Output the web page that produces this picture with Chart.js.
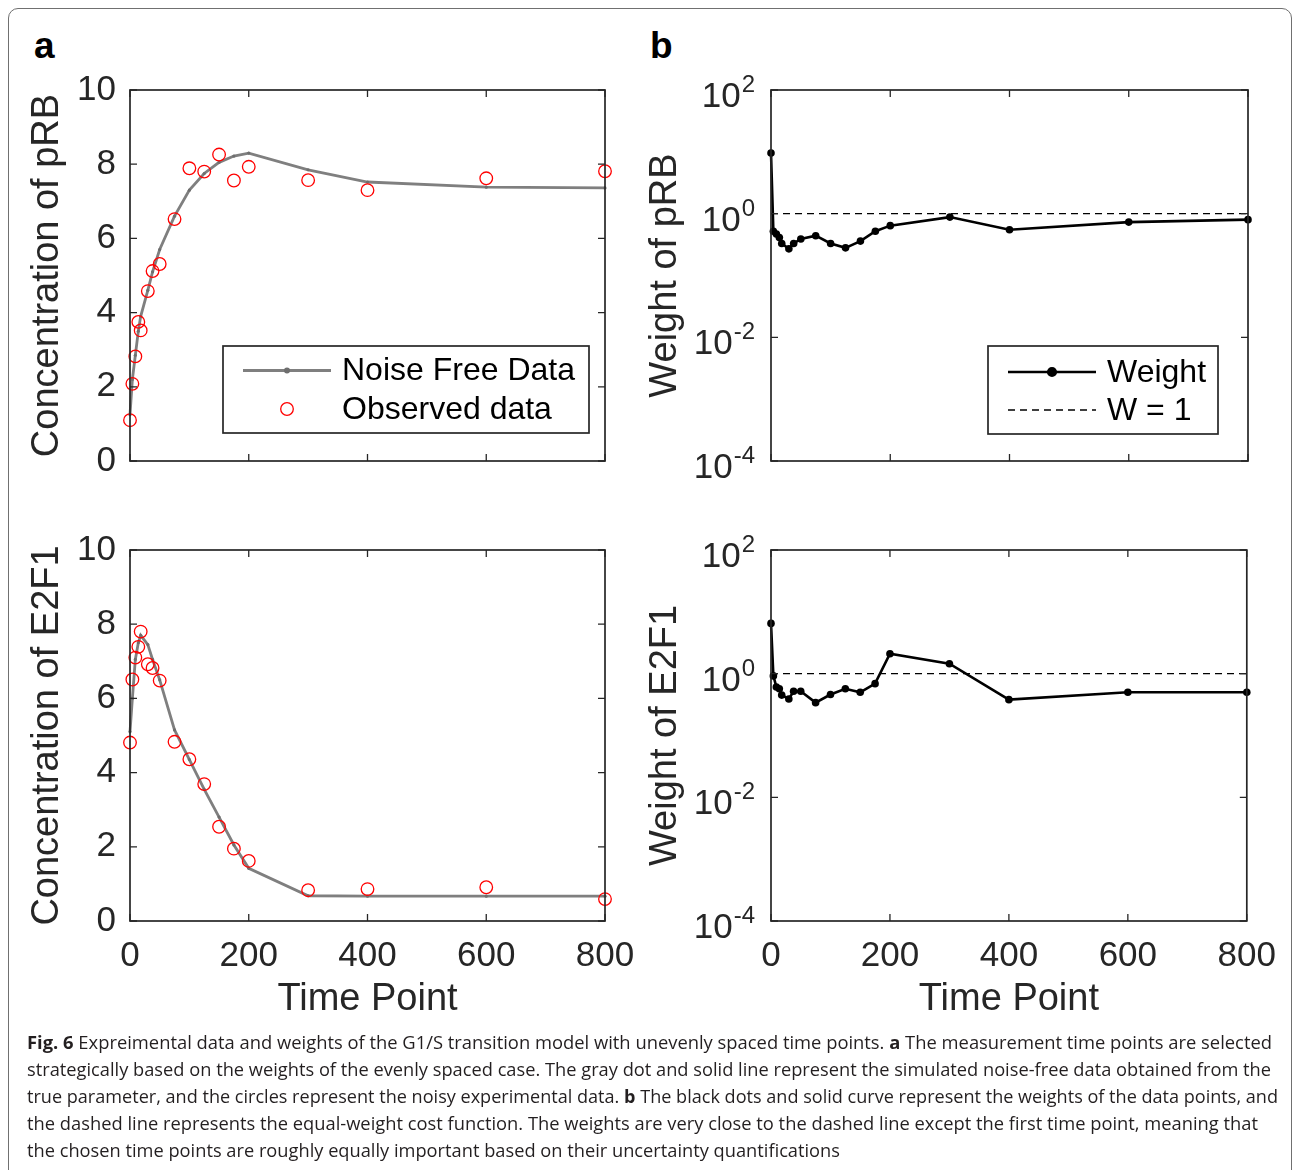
<!DOCTYPE html>
<html>
<head>
<meta charset="utf-8">
<title>Fig. 6</title>
<script src="https://cdn.jsdelivr.net/npm/chart.js@4.4.1/dist/chart.umd.min.js"></script>
<style>
  html, body { margin: 0; padding: 0; background: #fff; }
  body { position: relative; width: 1293px; height: 1170px; overflow: hidden; }
  .frame { position: absolute; left: 8px; top: 8px; width: 1284px; height: 1200px; border: 1.5px solid #707070; border-radius: 10px 10px 0 0; box-sizing: border-box; }
  canvas { position: absolute; }
  .tag { position: absolute; font: bold 37px 'Liberation Sans', Arial, sans-serif; line-height: 37px; color: #000; }
  .caption { position: absolute; left: 27px; top: 1029px; font-family: 'Open Sans', 'Noto Sans', sans-serif; font-size: 17.5px; line-height: 27px; color: #231f20; }
  .caption div { white-space: nowrap; transform-origin: 0 50%; width: max-content; }
</style>
</head>
<body>
<div class="frame"></div>
<div class="tag" style="left:34px;top:27px">a</div>
<div class="tag" style="left:650px;top:27px">b</div>

<canvas id="prbConc" width="650" height="470" style="left:0;top:40px"></canvas>
<canvas id="prbWeight" width="650" height="470" style="left:640px;top:40px"></canvas>
<canvas id="e2f1Conc" width="650" height="540" style="left:0;top:500px"></canvas>
<canvas id="e2f1Weight" width="650" height="540" style="left:640px;top:500px"></canvas>

<div class="caption" id="caption">
  <div><b>Fig. 6</b> Expreimental data and weights of the G1/S transition model with unevenly spaced time points. <b>a</b> The measurement time points are selected</div>
  <div>strategically based on the weights of the evenly spaced case. The gray dot and solid line represent the simulated noise-free data obtained from the</div>
  <div>true parameter, and the circles represent the noisy experimental data. <b>b</b> The black dots and solid curve represent the weights of the data points, and</div>
  <div>the dashed line represents the equal-weight cost function. The weights are very close to the dashed line except the first time point, meaning that</div>
  <div>the chosen time points are roughly equally important based on their uncertainty quantifications</div>
</div>

<script>
// measurement times (shared by all four panels)
const timePoints = [0, 4, 9, 14, 18, 30, 38, 50, 75, 100, 125, 150, 175, 200, 300, 400, 600, 800];

// panel a
const prbNoiseFree = [1.25, 2.2, 2.85, 3.5, 3.9, 4.6, 5.1, 5.7, 6.6, 7.3, 7.75, 8.05, 8.22, 8.3, 7.85, 7.52, 7.38, 7.36];
const prbObserved = [1.10, 2.08, 2.82, 3.75, 3.52, 4.58, 5.12, 5.31, 6.52, 7.89, 7.80, 8.26, 7.56, 7.93, 7.57, 7.30, 7.62, 7.81];
const e2f1NoiseFree = [5.1, 6.0, 7.05, 7.5, 7.7, 7.45, 7.05, 6.5, 5.15, 4.35, 3.55, 2.8, 2.05, 1.42, 0.68, 0.67, 0.67, 0.67];
const e2f1Observed = [4.81, 6.51, 7.10, 7.39, 7.80, 6.92, 6.82, 6.48, 4.83, 4.36, 3.69, 2.54, 1.95, 1.62, 0.83, 0.86, 0.91, 0.59];

// panel b
const prbWeight = [9.6, 0.52, 0.47, 0.41, 0.33, 0.27, 0.33, 0.39, 0.44, 0.33, 0.28, 0.36, 0.52, 0.64, 0.88, 0.55, 0.73, 0.80];
const e2f1Weight = [6.5, 0.92, 0.61, 0.57, 0.45, 0.39, 0.52, 0.52, 0.34, 0.46, 0.57, 0.50, 0.69, 2.1, 1.45, 0.38, 0.50, 0.50];
const refTime = [0, 800];
const refWeight = [1, 1];

// tick labels
const timeTicks = [0, 200, 400, 600, 800];
const concTicks = [0, 2, 4, 6, 8, 10];
const weightTicks = [1e-4, 1e-2, 1, 1e2];

const AXIS = '#262626';
const FONT = "'Liberation Sans', Arial, Helvetica, sans-serif";

const pts = (xs, ys) => xs.map((x, i) => ({ x: x, y: ys[i] }));

// MATLAB style box with inward ticks on all four sides
const matlabBox = {
  id: 'matlabBox',
  afterDatasetsDraw(chart) {
    const { ctx, chartArea: a, scales: { x, y } } = chart;
    ctx.save();
    ctx.strokeStyle = AXIS;
    ctx.lineWidth = 1.3;
    ctx.beginPath();
    x.ticks.forEach(t => {
      const px = x.getPixelForValue(t.value);
      ctx.moveTo(px, a.bottom); ctx.lineTo(px, a.bottom - 7);
      ctx.moveTo(px, a.top); ctx.lineTo(px, a.top + 7);
    });
    y.ticks.forEach(t => {
      const py = y.getPixelForValue(t.value);
      ctx.moveTo(a.left, py); ctx.lineTo(a.left + 7, py);
      ctx.moveTo(a.right, py); ctx.lineTo(a.right - 7, py);
    });
    ctx.stroke();
    ctx.lineWidth = 1.7;
    ctx.strokeRect(a.left, a.top, a.right - a.left, a.bottom - a.top);
    ctx.restore();
  }
};

// 10^n labels for the log axes
const expTicks = {
  id: 'expTicks',
  afterDraw(chart) {
    const { ctx, chartArea: a, scales: { y } } = chart;
    ctx.save();
    ctx.fillStyle = AXIS;
    ctx.textAlign = 'right';
    ctx.textBaseline = 'alphabetic';
    y.ticks.forEach(t => {
      const py = y.getPixelForValue(t.value);
      const exp = String(Math.round(Math.log10(t.value)));
      const right = a.left - 16;
      ctx.font = '24px ' + FONT;
      const ew = ctx.measureText(exp).width;
      ctx.fillText(exp, right, py + 2);
      ctx.font = '35px ' + FONT;
      ctx.fillText('10', right - ew - 1, py + 17);
    });
    ctx.restore();
  }
};

// legend box inside the axes
const boxLegend = {
  id: 'boxLegend',
  afterDraw(chart, args, o) {
    const { ctx, chartArea: a } = chart;
    const L = a.left + o.left, R = a.right - o.right, T = a.top + o.top, B = a.bottom - o.bottom;
    ctx.save();
    ctx.fillStyle = '#fff';
    ctx.fillRect(L, T, R - L, B - T);
    ctx.strokeStyle = AXIS;
    ctx.lineWidth = 1.7;
    ctx.strokeRect(L, T, R - L, B - T);
    o.rows.forEach((dy, i) => {
      const ds = chart.data.datasets[o.order[i]];
      const y = T + dy, x0 = L + 20, x1 = L + 108, xm = (x0 + x1) / 2;
      if (ds.showLine !== false) {
        ctx.strokeStyle = ds.borderColor;
        ctx.lineWidth = ds.borderWidth;
        ctx.setLineDash(ds.borderDash || []);
        ctx.beginPath(); ctx.moveTo(x0, y); ctx.lineTo(x1, y); ctx.stroke();
        ctx.setLineDash([]);
      }
      if (ds.pointRadius > 0) {
        ctx.beginPath();
        ctx.arc(xm, y, ds.pointRadius, 0, Math.PI * 2);
        ctx.fillStyle = ds.pointBackgroundColor;
        ctx.fill();
        ctx.strokeStyle = ds.pointBorderColor;
        ctx.lineWidth = ds.pointBorderWidth;
        ctx.stroke();
      }
      ctx.fillStyle = '#000';
      ctx.font = '32px ' + FONT;
      ctx.textAlign = 'left';
      ctx.textBaseline = 'middle';
      ctx.fillText(ds.label, L + 119, y + 1);
    });
    ctx.restore();
  }
};

function xAxis(showX) {
  return {
    type: 'linear', min: 0, max: 800,
    afterBuildTicks: s => { s.ticks = timeTicks.map(v => ({ value: v })); },
    ticks: { display: showX, font: { family: FONT, size: 35 }, color: AXIS, padding: 14, maxRotation: 0, autoSkip: false },
    grid: { display: false, drawTicks: false },
    border: { display: false },
    title: { display: showX, text: 'Time Point', color: AXIS, font: { family: FONT, size: 38, lineHeight: 1 }, padding: { top: 0, bottom: 21 } },
    afterFit: s => { s.height = showX ? 119 : 49; }
  };
}

function baseOptions(showX, yScale, legendOpts) {
  return {
    responsive: false,
    animation: false,
    devicePixelRatio: 1,
    layout: { padding: { top: 50, right: 45, left: 0, bottom: 0 } },
    scales: { x: xAxis(showX), y: yScale },
    plugins: { legend: { display: false }, tooltip: { enabled: false }, boxLegend: legendOpts || {} }
  };
}

function concChart(id, title, noiseFree, observed, withLegend) {
  const yScale = {
    type: 'linear', min: 0, max: 10,
    afterBuildTicks: s => { s.ticks = concTicks.map(v => ({ value: v })); },
    ticks: { font: { family: FONT, size: 35 }, color: AXIS, padding: 14 },
    grid: { display: false, drawTicks: false },
    border: { display: false },
    title: { display: true, text: title, color: AXIS, font: { family: FONT, size: 38, lineHeight: 1 }, padding: { top: 29, bottom: 0 } },
    afterFit: s => { s.width = 130; }
  };
  const plugins = [matlabBox];
  if (withLegend) plugins.push(boxLegend);
  new Chart(document.getElementById(id), {
    type: 'line',
    data: {
      datasets: [
        {
          label: 'Observed data',
          data: pts(timePoints, observed),
          showLine: false,
          pointRadius: 6.3,
          pointBorderWidth: 1.3,
          pointBorderColor: '#ff0000',
          pointBackgroundColor: 'rgba(0,0,0,0)',
          borderColor: '#ff0000',
          clip: false
        },
        {
          label: 'Noise Free Data',
          data: pts(timePoints, noiseFree),
          borderColor: '#7f7f7f',
          borderWidth: 2.8,
          pointRadius: 1.6,
          pointBorderWidth: 0,
          pointBorderColor: '#6e6e6e',
          pointBackgroundColor: '#6e6e6e',
          tension: 0,
          clip: false
        }
      ]
    },
    options: baseOptions(!withLegend, yScale, { left: 93, right: 16, top: 256, bottom: 28, rows: [24.5, 63], order: [1, 0] }),
    plugins: plugins
  });
}

function weightChart(id, title, weights, withLegend) {
  const yScale = {
    type: 'logarithmic', min: 1e-4, max: 1e2,
    afterBuildTicks: s => { s.ticks = weightTicks.map(v => ({ value: v })); },
    ticks: { display: false },
    grid: { display: false, drawTicks: false },
    border: { display: false },
    title: { display: true, text: title, color: AXIS, font: { family: FONT, size: 38, lineHeight: 1 }, padding: { top: 7, bottom: 0 } },
    afterFit: s => { s.width = 131; }
  };
  const plugins = [matlabBox, expTicks];
  if (withLegend) plugins.push(boxLegend);
  const opts = baseOptions(!withLegend, yScale, { left: 217, right: 30, top: 256, bottom: 27, rows: [26, 64], order: [0, 1] });
  opts.layout.padding.right = 42;
  new Chart(document.getElementById(id), {
    type: 'line',
    data: {
      datasets: [
        {
          label: 'Weight',
          data: pts(timePoints, weights),
          borderColor: '#000',
          borderWidth: 2.6,
          pointRadius: 3.8,
          pointBorderWidth: 0,
          pointBorderColor: '#000',
          pointBackgroundColor: '#000',
          tension: 0,
          clip: false
        },
        {
          label: 'W = 1',
          data: pts(refTime, refWeight),
          borderColor: '#000',
          borderWidth: 1.3,
          borderDash: [7, 5],
          pointRadius: 0,
          tension: 0
        }
      ]
    },
    options: opts,
    plugins: plugins
  });
}

concChart('prbConc', 'Concentration of pRB', prbNoiseFree, prbObserved, true);
weightChart('prbWeight', 'Weight of pRB', prbWeight, true);
concChart('e2f1Conc', 'Concentration of E2F1', e2f1NoiseFree, e2f1Observed, false);
weightChart('e2f1Weight', 'Weight of E2F1', e2f1Weight, false);

// squeeze each caption line to its printed width
const captionWidths = [1245, 1244, 1251, 1231, 813];
document.querySelectorAll('#caption div').forEach((el, i) => {
  const w = el.getBoundingClientRect().width;
  el.style.transform = 'scaleX(' + (captionWidths[i] / w) + ')';
});
</script>
</body>
</html>
